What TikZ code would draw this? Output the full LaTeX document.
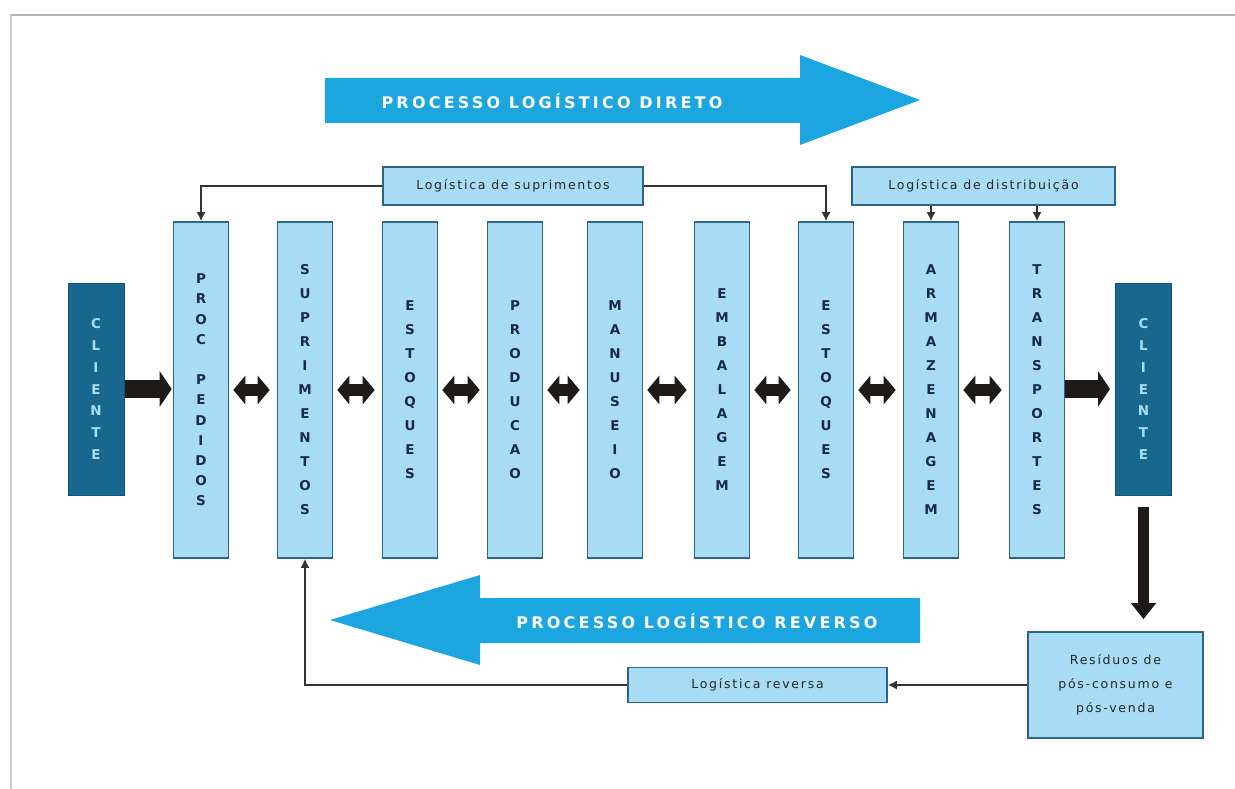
\documentclass[tikz,border=0pt]{standalone}
\usepackage{fontspec}
\setmainfont{DejaVu Sans}
\newfontfamily\boxfont[LetterSpace=14]{DejaVu Sans}
\newfontfamily\bannerfont[LetterSpace=20]{DejaVu Sans}
\usetikzlibrary{arrows.meta}

\definecolor{stagefill}{HTML}{A8DCF4}
\definecolor{stageedge}{HTML}{2F6584}
\definecolor{clientfill}{HTML}{17678F}
\definecolor{clienttext}{HTML}{A6DDF3}
\definecolor{bannerfill}{HTML}{1BA6DF}
\definecolor{lettercol}{HTML}{1B2B45}
\definecolor{linecol}{HTML}{333333}
\definecolor{blockcol}{HTML}{1E1A17}
\definecolor{pagecol}{HTML}{B4B4B4}

\tikzset{
  stage/.style={draw=stageedge, line width=1.6pt, fill=stagefill,
    minimum width=55pt, minimum height=336pt, inner sep=0pt,
    align=center, text=lettercol,
    font=\bfseries\fontsize{13.5}{#1}\selectfont},
  stage/.default=24,
  client/.style={draw=clientfill!80!black, line width=1pt, fill=clientfill,
    minimum width=56pt, minimum height=212pt, inner sep=0pt,
    align=center, text=clienttext,
    font=\bfseries\fontsize{13.5}{21.7}\selectfont},
  infobox/.style={draw=stageedge, line width=1.6pt, fill=stagefill,
    inner sep=0pt, align=center, text=black!85,
    font=\boxfont\fontsize{12.5}{24}\selectfont},
  link/.style={draw=linecol, line width=1.6pt,
    -{Latex[length=9pt,width=9pt]}},
  flow/.style={draw=blockcol, line width=12pt,
    {Triangle[length=12pt,width=28pt]}-{Triangle[length=12pt,width=28pt]},
    shorten <=4pt, shorten >=7pt},
  feed/.style={draw=blockcol, line width=18pt,
    -{Triangle[length=12pt,width=35pt]}},
  banner/.style={fill=bannerfill, draw=none},
  bannertext/.style={text=white, font=\bannerfont\bfseries\fontsize{16}{16}\selectfont}
}

\begin{document}
\begin{tikzpicture}[x=1pt,y=-1pt]
  \useasboundingbox (0,0) rectangle (1235,789);

  % page frame
  \draw[pagecol, line width=2.5pt] (10,15) -- (1235,15);
  \draw[pagecol!70, line width=2pt] (11,15) -- (11,789);

  % banners
  \path[banner] (325,78) -- (800,78) -- (800,55) -- (920,100)
    -- (800,145) -- (800,123) -- (325,123) -- cycle;
  \node[bannertext] (direto) at (552,101) {PROCESSO LOGÍSTICO DIRETO};
  \path[banner] (920,598) -- (480,598) -- (480,575) -- (330,620)
    -- (480,665) -- (480,643) -- (920,643) -- cycle;
  \node[bannertext] (reverso) at (697,621) {PROCESSO LOGÍSTICO REVERSO};

  % clients
  \node[client] (cliL) at (96,389) {C\\L\\I\\E\\N\\T\\E};
  \node[client] (cliR) at (1143.5,389) {C\\L\\I\\E\\N\\T\\E};

  % stages
  \node[stage=20.2] (proc) at (201,390) {P\\R\\O\\C\\~\\P\\E\\D\\I\\D\\O\\S};
  \node[stage] (supr) at (305,390) {S\\U\\P\\R\\I\\M\\E\\N\\T\\O\\S};
  \node[stage] (estA) at (410,390) {E\\S\\T\\O\\Q\\U\\E\\S};
  \node[stage] (prod) at (515,390) {P\\R\\O\\D\\U\\C\\A\\O};
  \node[stage] (manu) at (615,390) {M\\A\\N\\U\\S\\E\\I\\O};
  \node[stage] (emba) at (722,390) {E\\M\\B\\A\\L\\A\\G\\E\\M};
  \node[stage] (estB) at (826,390) {E\\S\\T\\O\\Q\\U\\E\\S};
  \node[stage] (arma) at (931,390) {A\\R\\M\\A\\Z\\E\\N\\A\\G\\E\\M};
  \node[stage] (tran) at (1037,390) {T\\R\\A\\N\\S\\P\\O\\R\\T\\E\\S};

  % boxes
  \node[infobox, minimum width=260pt, minimum height=38pt] (logsup) at (513,186) {Logística de suprimentos};
  \node[infobox, minimum width=263pt, minimum height=38pt] (logdis) at (983.5,186) {Logística de distribuição};
  \node[infobox, minimum width=259pt, minimum height=35pt] (logrev) at (757.5,685) {Logística reversa};
  \node[infobox, minimum width=175pt, minimum height=106pt] (resid) at (1115.5,685) {Resíduos de\\pós-consumo e\\pós-venda};

  % main flow
  \draw[feed, shorten >=1pt] (cliL.east) -- (cliL.east -| proc.west);
  \draw[flow] (proc) -- (supr);
  \draw[flow] (supr) -- (estA);
  \draw[flow] (estA) -- (prod);
  \draw[flow] (prod) -- (manu);
  \draw[flow] (manu) -- (emba);
  \draw[flow] (emba) -- (estB);
  \draw[flow] (estB) -- (arma);
  \draw[flow] (arma) -- (tran);
  \draw[feed, shorten >=5pt] (cliR.west -| tran.east) -- (cliR.west);
  \draw[draw=blockcol, line width=11pt, -{Triangle[length=16pt,width=24pt]},
    shorten <=11pt, shorten >=12pt] (cliR.south) -- (cliR.south |- resid.north);

  % management links
  \draw[link] (logsup.west) -| (proc.north);
  \draw[link] (logsup.east) -| (estB.north);
  \draw[link] (arma.north |- logdis.south) -- (arma.north);
  \draw[link] (tran.north |- logdis.south) -- (tran.north);
  \draw[link] (resid.west) -- (logrev.east);
  \draw[link] (logrev.west) -| (supr.south);
\end{tikzpicture}
\end{document}
